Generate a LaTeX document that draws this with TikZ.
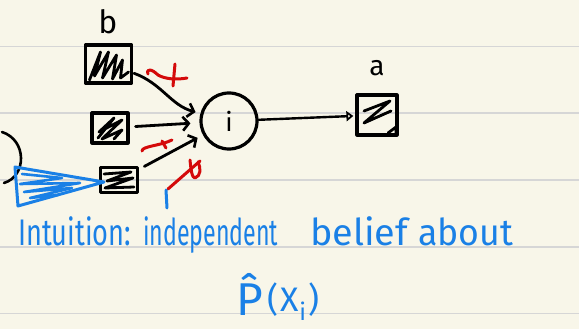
\documentclass[tikz,border=0pt]{standalone}
\usepackage{fontspec}
\setmainfont{Fira Sans}
\usetikzlibrary{arrows.meta,calc}
\definecolor{paper}{HTML}{F8F6E9}
\definecolor{rule}{HTML}{D6D6D6}
\definecolor{inkred}{HTML}{D40A0A}
\definecolor{inkblue}{HTML}{1A80E6}
\tikzset{
  ink/.style={line width=3.2pt, line cap=round, line join=round},
  hbox/.style={draw, ink, rectangle, inner sep=0pt},
  scrib/.style={ink, line width=2.8pt},
  arr/.style={ink, line width=2.8pt, -{Straight Barb[length=6pt,width=14pt,line width=2.6pt]}},
  redink/.style={ink, inkred, line width=3pt},
  blueink/.style={ink, inkblue, line width=3pt},
  word/.style={inkblue, anchor=base west, inner sep=0pt, font=\fontsize{37}{37}\selectfont},
}
\begin{document}
\begin{tikzpicture}[x=1pt,y=-1pt]
\fill[paper] (0,0) rectangle (579,329);
\useasboundingbox (0,0) rectangle (579,329);
\foreach \yy in {46.7,113.3,180,246.7,313.3} \draw[rule, line width=1.6pt] (0,\yy) -- (579,\yy);

% boxes
\node[hbox, minimum width=46pt, minimum height=38pt] (b) at (108.5,64) {};
\node[hbox, minimum width=36pt, minimum height=30pt] (m) at (110,128) {};
\node[hbox, minimum width=37pt, minimum height=25pt] (bt) at (119,180) {};
\node[hbox, minimum width=40pt, minimum height=40pt] (a) at (377,115) {};
\node[draw, ink, circle, minimum size=56pt, inner sep=0pt, font=\fontsize{26}{26}\selectfont] (i) at (229,121) {i};

% labels
\node[font=\fontsize{32}{32}\selectfont, inner sep=0pt] (lb) at (108,22) {b};
\node[font=\fontsize{28}{28}\selectfont, inner sep=0pt] (la) at (377,68) {a};

% scribbles inside boxes
\draw[scrib, shift={(b.center)}] (-19,16) -- (-8,-12) -- (-14,12) -- (0,-12) -- (-6,14) -- (8,-9) -- (4,15) -- (14,-4) -- (12,14) -- (20,8);
\draw[scrib, shift={(m.center)}] (-12,10) -- (4,-10) -- (-11,4) -- (12,-8) -- (-8,11) -- (12,2) -- (4,11);
\draw[scrib, shift={(bt.center)}] (-15,-6) -- (12,-8) -- (-12,1) -- (14,-2) -- (-14,8) -- (15,7);
\draw[scrib, shift={(a.center)}] (-13,-4) -- (13,-14) -- (-13,8) -- (14,-4);
\draw[scrib, shift={(a.center)}] (11,18) -- (19,12) -- (19,19);

% connectors
\draw[arr, shorten <=1pt, shorten >=5pt] (b) to[out=-20,in=165] (i);
\draw[arr, shorten <=6pt, shorten >=9pt] (m) -- (i);
\draw[arr, shorten <=6pt, shorten >=6pt] (bt) -- (i);
\draw[ink, line width=2.4pt, -{Triangle[open,length=7pt,width=10pt,line width=2.4pt]}, shorten >=2pt] (i) -- (a);

% red marks
\draw[redink] (148,74) .. controls (146,68) and (152,69) .. (158,75) .. controls (165,79) and (176,80) .. (187,78);
\draw[redink] (175,64) -- (173,86);
\draw[redink] (142,151) .. controls (142,146) and (160,146) .. (172,140);
\draw[redink] (162,141) -- (166,148);
\draw[redink] (168,189) -- (200,161);
\draw[redink] (190,160) .. controls (191,170) and (192,178) .. (195,178) .. controls (201,176) and (201,168) .. (198,162);

% left arc
\draw[ink, line width=2.6pt] (2,132) .. controls (27,140) and (27,176) .. (4,183);

% blue triangle
\draw[blueink] (15,167) -- (104,182) -- (18,206) -- cycle;
\draw[blueink, line width=2.6pt] (22,174) -- (62,178) -- (20,184) -- (80,183) -- (24,192) -- (72,188) -- (30,198) -- (58,195);
\draw[blueink] (166,190) -- (167,208);

% text
\node[word] (w1) at (18,245) {\resizebox{113pt}{\height}{Intuition:}};
\node[word] (w2) at (143,245) {\resizebox{135pt}{\height}{independent}};
\node[word] (w3) at (310,245) {\resizebox{98pt}{\height}{belief}};
\node[word] (w4) at (418,245) {\resizebox{95pt}{\height}{about}};
\node[inkblue, anchor=base west, inner sep=0pt] (p) at (236,315) {{\fontsize{46}{46}\selectfont\^{P}}\hspace{5pt}\raisebox{4pt}{\fontsize{34}{34}\selectfont(\hspace{2pt}X\textsubscript{i}\hspace{2pt})}};
\end{tikzpicture}
\end{document}
